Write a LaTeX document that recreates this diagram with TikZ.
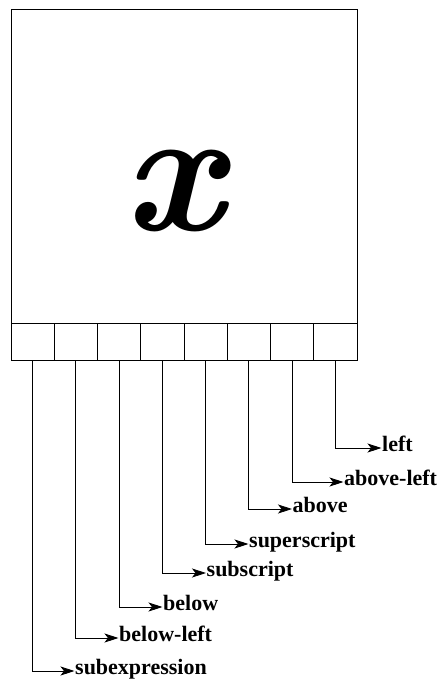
\documentclass[tikz,border=0pt]{standalone}
\usepackage{fontspec}
\newfontfamily\lib{Liberation Serif}
\usetikzlibrary{arrows.meta}
\begin{document}
\begin{tikzpicture}[x=1pt,y=-1pt,
  cell/.style={draw,line width=0.9pt,minimum width=43.25pt,minimum height=37pt,inner sep=0pt,outer sep=0pt},
  lbl/.style={anchor=west,inner sep=0.5pt,font=\lib\bfseries\fontsize{22}{25}\selectfont,text height=0.75em,text depth=0.1em},
  conn/.style={line width=0.8pt,-{Stealth[length=14pt,width=9pt,inset=3.5pt]}}]
\useasboundingbox (0,0) rectangle (441,686);
\node[draw,line width=0.9pt,minimum width=346pt,minimum height=314pt,inner sep=0pt,outer sep=0pt] (main) at (184,166) {};
\node[inner sep=0pt,text height=0.43em,text depth=0pt] (xx) at (173,228) {\fontsize{178}{190}\selectfont\bfseries\itshape x};
\foreach \i in {1,...,8}{
  \node[cell] (c\i) at ({11+43.25*(\i-0.5)},341.5) {};
}
\node[lbl] (l1) at (74.5,671) {subexpression};
\node[lbl] (l2) at (118.5,638) {below-left};
\node[lbl] (l3) at (162.5,607) {below};
\node[lbl] (l4) at (206,573) {subscript};
\node[lbl] (l5) at (248.5,544) {superscript};
\node[lbl] (l6) at (292,509) {above};
\node[lbl] (l7) at (343.5,482) {above-left};
\node[lbl] (l8) at (381.5,448) {left};
\foreach \i in {1,...,8}{
  \draw[conn] (c\i.south) |- (l\i.west);
}
\end{tikzpicture}
\end{document}
